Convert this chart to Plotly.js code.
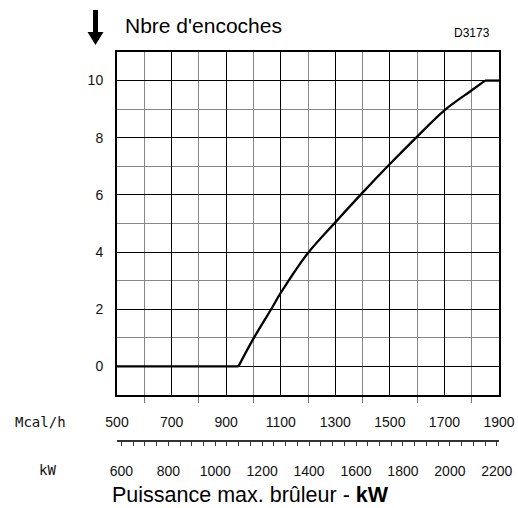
<!DOCTYPE html>
<html>
<head>
<meta charset="utf-8">
<script src="https://cdn.plot.ly/plotly-3.0.1.min.js"></script>
<style>html,body{margin:0;padding:0;background:#fff}#chart{width:518px;height:508px}</style>
</head>
<body>
<div id="chart"></div>
<script>
// Data (x in Mcal/h, y = nombre d'encoches)
const mcal = [500, 945, 1000, 1065, 1100, 1200, 1300, 1400, 1500, 1600, 1700, 1800, 1849, 1900];
const encoches = [0, 0, 0.97, 2.0, 2.57, 3.97, 5.04, 6.08, 7.08, 8.04, 8.96, 9.66, 10, 10];
const mcalRange = [500, 1900];
const kwPerMcal = 1 / 0.86;           // 1 kW = 0.86 Mcal/h
const kwTick0 = 600, kwStep = 200;
const yRange = [-1, 11];

const W = 518, H = 508;
const mL = 117, mR = 19, mT = 52, mB = 67;
const pw = W - mL - mR, ph = H - mT - mB;
const px = v => (v - mL) / pw;
const py = v => (H - mB - v) / ph;
const frameBottom = 395;

function path(pts) {
  return 'M ' + pts.map(p => px(p[0]).toFixed(4) + ',' + py(p[1]).toFixed(4)).join(' L ') + ' Z';
}

const font = 'Liberation Sans, Arial, sans-serif';
const n = mcal.length;
const lineStyle = {color: '#000', width: 2.3};

const data = [
  // flat start
  {x: mcal.slice(0, 2), y: encoches.slice(0, 2), type: 'scatter', mode: 'lines',
   line: lineStyle, hoverinfo: 'skip', showlegend: false},
  // rising curve
  {x: mcal.slice(1, n - 1), y: encoches.slice(1, n - 1), type: 'scatter', mode: 'lines',
   line: Object.assign({shape: 'spline', smoothing: 1}, lineStyle), hoverinfo: 'skip', showlegend: false},
  // flat end
  {x: mcal.slice(n - 2), y: encoches.slice(n - 2), type: 'scatter', mode: 'lines',
   line: lineStyle, hoverinfo: 'skip', showlegend: false},
  {x: [], y: [], type: 'scatter', mode: 'lines', xaxis: 'x2', yaxis: 'y', hoverinfo: 'skip', showlegend: false}
];

const layout = {
  width: W, height: H,
  margin: {l: mL, r: mR, t: mT, b: mB, pad: 0},
  paper_bgcolor: '#fff', plot_bgcolor: '#fff',
  showlegend: false,
  font: {family: font, color: '#111', size: 14},
  xaxis: {
    range: mcalRange, tick0: 500, dtick: 200, anchor: 'y',
    showgrid: true, gridcolor: '#000', gridwidth: 1,
    ticks: '', zeroline: false,
    showline: true, mirror: true, linecolor: '#000', linewidth: 2,
    tickfont: {family: font, size: 14, color: '#111'},
    ticklabelstandoff: 13,
    minor: {dtick: 100, showgrid: true, gridcolor: '#888', gridwidth: 1,
            ticks: 'outside', ticklen: 6, tickcolor: '#777', tickwidth: 1}
  },
  xaxis2: {
    overlaying: 'x', anchor: 'free', position: 0, side: 'bottom',
    range: [mcalRange[0] * kwPerMcal, mcalRange[1] * kwPerMcal],
    tick0: kwTick0, dtick: kwStep,
    showgrid: false, zeroline: false,
    ticks: 'outside', ticklen: 4, tickcolor: '#333', tickwidth: 1,
    showline: true, linecolor: '#333', linewidth: 2,
    tickfont: {family: font, size: 14, color: '#111'},
    ticklabelstandoff: 13,
    minor: {dtick: 50, ticks: 'outside', ticklen: 4, tickcolor: '#333', tickwidth: 1, showgrid: false}
  },
  yaxis: {
    range: yRange, domain: [(H - mB - frameBottom) / ph, 1],
    tick0: 0, dtick: 2,
    showgrid: true, gridcolor: '#000', gridwidth: 1,
    ticks: '', zeroline: false,
    showline: true, mirror: true, linecolor: '#000', linewidth: 2,
    tickfont: {family: font, size: 14, color: '#111'},
    ticklabelstandoff: 9,
    minor: {dtick: 1, showgrid: true, gridcolor: '#888', gridwidth: 1}
  },
  shapes: [
    {type: 'path', xref: 'paper', yref: 'paper',
     path: path([[93, 10], [98, 10], [98, 32], [103.5, 32], [95.5, 45], [87.5, 32], [93, 32]]),
     fillcolor: '#000', line: {color: '#000', width: 0}}
  ],
  annotations: [
    {text: "Nbre d'encoches", xref: 'paper', yref: 'paper', x: px(123), y: py(25),
     xanchor: 'left', yanchor: 'middle', showarrow: false, font: {family: font, size: 21, color: '#000'}},
    {text: 'D3173', xref: 'paper', yref: 'paper', x: px(472), y: py(33),
     xanchor: 'center', yanchor: 'middle', showarrow: false, font: {family: font, size: 12, color: '#000'}},
    {text: 'Mcal/h', xref: 'paper', yref: 'paper', x: px(40), y: py(422),
     xanchor: 'center', yanchor: 'middle', showarrow: false, font: {family: 'DejaVu Sans Mono, monospace', size: 14, color: '#111'}},
    {text: 'kW', xref: 'paper', yref: 'paper', x: px(47), y: py(470),
     xanchor: 'center', yanchor: 'middle', showarrow: false, font: {family: 'DejaVu Sans Mono, monospace', size: 14, color: '#111'}},
    {text: 'Puissance max. brûleur - <b>kW</b>', xref: 'paper', yref: 'paper', x: px(110), y: py(495),
     xanchor: 'left', yanchor: 'middle', showarrow: false, font: {family: font, size: 21.5, color: '#000'}}
  ]
};

Plotly.newPlot('chart', data, layout, {staticPlot: true, displayModeBar: false});
</script>
</body>
</html>
